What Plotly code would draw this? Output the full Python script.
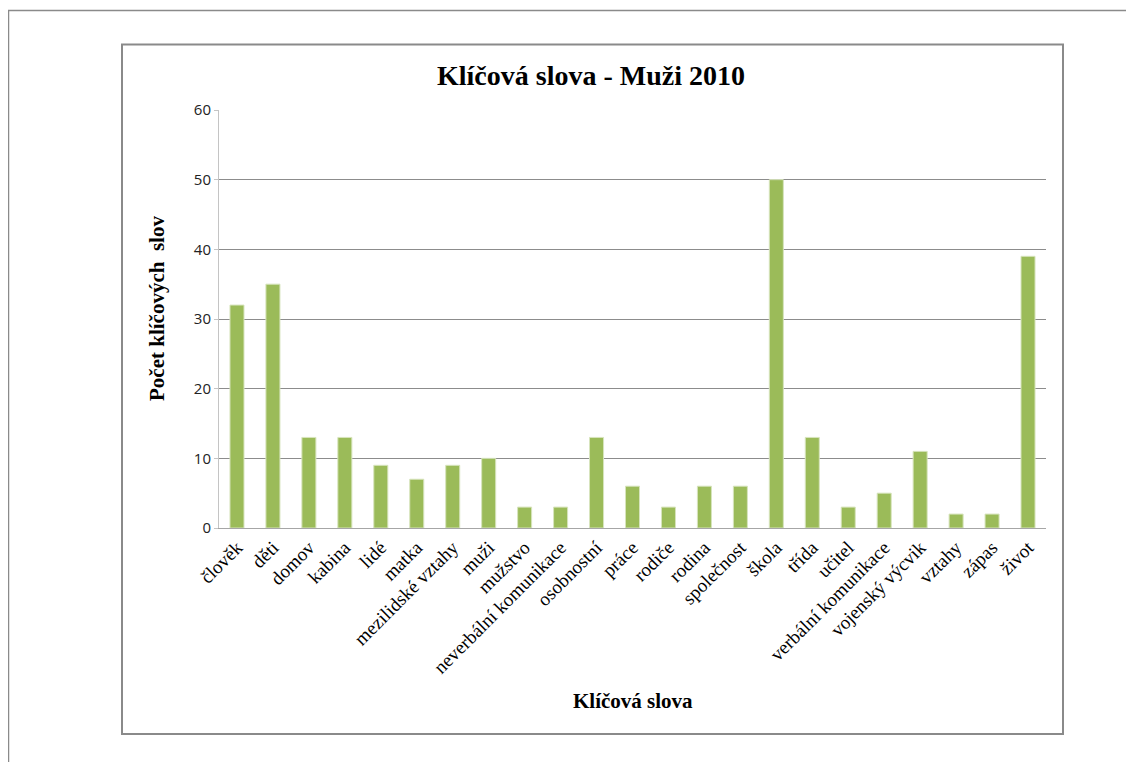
import plotly.graph_objects as go

categories = ["člověk", "děti", "domov", "kabina", "lidé", "matka", "mezilidské vztahy",
              "muži", "mužstvo", "neverbální komunikace", "osobnostní", "práce", "rodiče",
              "rodina", "společnost", "škola", "třída", "učitel", "verbální komunikace",
              "vojenský výcvik", "vztahy", "zápas", "život"]
values = [32, 35, 13, 13, 9, 7, 9, 10, 3, 3, 13, 6, 3, 6, 6, 50, 13, 3, 5, 11, 2, 2, 39]
y_ticks = [0, 10, 20, 30, 40, 50, 60]

OFF = 8  # page body margin
W, H = 1134 - OFF, 762 - OFF
L, R, T, B = 219 - OFF, 1046 - OFF, 110 - OFF, 528 - OFF

fig = go.Figure(go.Bar(
    x=categories, y=values,
    marker=dict(color="#9BBB59", line=dict(color="#D7E4BD", width=1)),
    hoverinfo="x+y",
))

def px_x(p):
    return (p - OFF - L) / (R - L)

def px_y(p):
    return (B - (p - OFF)) / (B - T)

shapes = [
    dict(type="rect", xref="paper", yref="paper",
         x0=px_x(8.5), x1=px_x(1145), y0=px_y(10.5), y1=px_y(775),
         line=dict(color="#8a8a8a", width=1.5), fillcolor="rgba(0,0,0,0)", layer="below"),
    dict(type="rect", xref="paper", yref="paper",
         x0=px_x(122), x1=px_x(1063), y0=px_y(44.5), y1=px_y(734),
         line=dict(color="#8a8a8a", width=2), fillcolor="rgba(0,0,0,0)", layer="below"),
]

annotations = [
    dict(text="<b>Klíčová slova - Muži 2010</b>", xref="paper", yref="paper",
         x=px_x(591), y=px_y(75), showarrow=False,
         font=dict(family="Liberation Serif", size=28, color="black"),
         xanchor="center", yanchor="middle"),
    dict(text="<b>Klíčová slova</b>", xref="paper", yref="paper",
         x=px_x(633), y=px_y(701), showarrow=False,
         font=dict(family="Liberation Serif", size=21, color="black"),
         xanchor="center", yanchor="middle"),
    dict(text="<b>Počet klíčových  slov</b>", xref="paper", yref="paper",
         x=px_x(157), y=px_y(309), showarrow=False, textangle=-90,
         font=dict(family="Liberation Serif", size=21, color="black"),
         xanchor="center", yanchor="middle"),
]

fig.update_layout(
    width=W, height=H,
    margin=dict(l=L, r=W - R, t=T, b=H - B, pad=0),
    paper_bgcolor="white", plot_bgcolor="white",
    bargap=0.61,
    showlegend=False,
    shapes=shapes,
    annotations=annotations,
    xaxis=dict(
        tickangle=-45,
        tickfont=dict(family="Liberation Serif", size=19, color="black"),
        showline=True, linecolor="#a6a6a6", linewidth=1,
        showgrid=False, ticks="", zeroline=False,
        fixedrange=True,
    ),
    yaxis=dict(
        range=[0, 60], tickvals=y_ticks,
        tickfont=dict(family="Open Sans", size=15, color="#222"),
        showgrid=True, gridcolor="#8c8c8c", gridwidth=1,
        showline=True, linecolor="#c4c4c4", linewidth=1,
        ticks="outside", ticklen=4, tickcolor="#c4c4c4",
        zeroline=False, fixedrange=True,
    ),
)

fig.write_html("out.html")
